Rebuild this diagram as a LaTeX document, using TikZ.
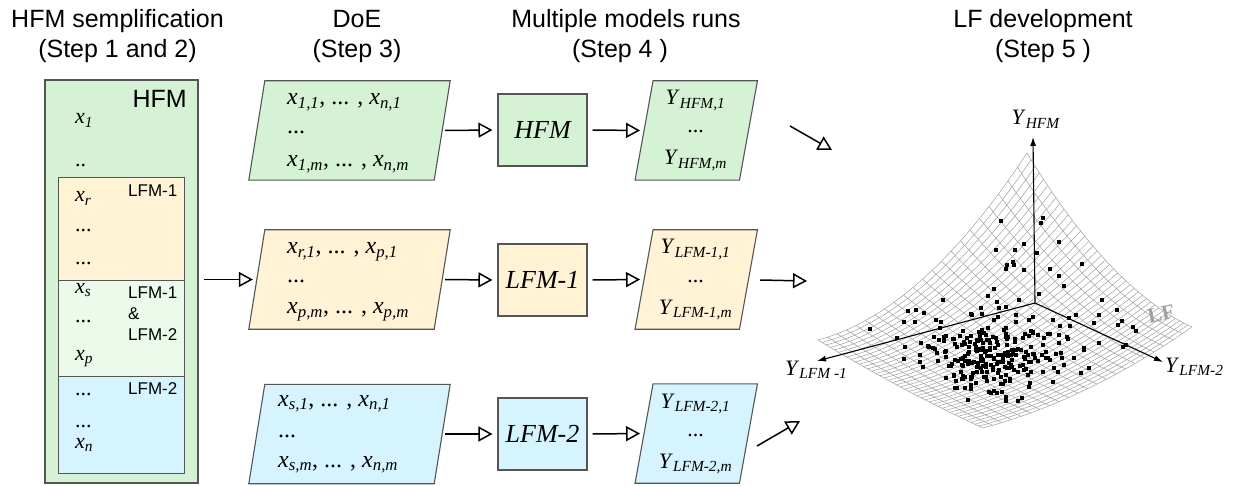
\documentclass[tikz,border=0pt]{standalone}
\usepackage{fontspec}
\setmainfont{Liberation Serif}
\newfontfamily\arialf{Liberation Sans}
\usetikzlibrary{arrows.meta,backgrounds,calc}
\definecolor{cgreen}{HTML}{D5F2D5}
\definecolor{corange}{HTML}{FFF2D5}
\definecolor{cblue}{HTML}{D5F4FF}
\definecolor{clight}{HTML}{EBFAEB}
\definecolor{cedge}{HTML}{555555}
\definecolor{cmesh}{HTML}{A0A0A0}
\newcommand\vx[1]{\textit{x}\textsubscript{\textit{#1}}}
\newcommand\vy[1]{\textit{Y}\textsubscript{\textit{#1}}}
\pgfmathdeclarefunction{srfx}{2}{\pgfmathparse{1027-209*#1+165*#2}}
\pgfmathdeclarefunction{srfy}{2}{\pgfmathparse{296+56*#1+76*#2-45*(1-#1)*(1-#1)-12*(1-#2)*(1-#2)-86*(1-#1)*(1-#1)*(1-#2)*(1-#2)}}
\begin{document}
\begin{tikzpicture}[x=1pt,y=-1pt,
  title/.style={font=\arialf\fontsize{25}{28}\selectfont, anchor=base, inner sep=0},
  box/.style={draw=cedge, line width=1.1pt, inner sep=0},
  host/.style={inner sep=0, minimum width=#1, minimum height=99},
  para/.style={draw=cedge, line width=1.1pt},
  lbl/.style={font=\arialf\fontsize{17}{20}\selectfont, anchor=base west, inner sep=0},
  vlab/.style={font=\fontsize{22}{26}\selectfont, anchor=base west, inner sep=0},
  dlab/.style={font=\fontsize{24}{28}\selectfont, anchor=base west, inner sep=0},
  olab/.style={font=\fontsize{22}{26}\selectfont, anchor=base, inner sep=0},
  mlab/.style={font=\itshape\fontsize{26}{30}\selectfont},
  arr/.style={line width=1.5pt, -{Triangle[open,length=14pt,width=15pt]}},
  axisarr/.style={line width=1.1pt, -{Latex[length=9pt,width=6pt]}},
  mesh/.style={draw=cmesh, line width=0.5pt}
]
\useasboundingbox (0,0) rectangle (1241,486);
\begin{scope}[on background layer]
\fill[white] (0,0) rectangle (1241,486);
\end{scope}

% titles
\node[title] (t1a) at (117.5,28) {HFM semplification};
\node[title] (t1b) at (117.5,58) {(Step 1 and 2)};
\node[title] (t2a) at (357,28) {DoE};
\node[title] (t2b) at (357,58) {(Step 3)};
\node[title] (t3a) at (626,28) {Multiple models runs};
\node[title] (t3b) at (620,58) {(Step 4 )};
\node[title] (t4a) at (1043,28) {LF development};
\node[title] (t4b) at (1043,58) {(Step 5 )};

% HFM box
\node[box, fill=cgreen, minimum width=153, minimum height=403] (hfm) at (121.5,281.5) {};
\node[box, line width=0.9pt, fill=corange, minimum width=126, minimum height=103] (g1) at (121,228.5) {};
\node[box, line width=0.9pt, fill=clight, minimum width=126, minimum height=96] (g12) at (121,328) {};
\node[box, line width=0.9pt, fill=cblue, minimum width=126, minimum height=97] (g2) at (121,424.5) {};
\node[font=\arialf\fontsize{25}{28}\selectfont, anchor=base east, inner sep=0] (hl) at (187,108) {HFM};
\node[lbl] (l1) at (128,197) {LFM-1};
\node[lbl] (l12a) at (128,298) {LFM-1};
\node[lbl] (l12b) at (128,319) {\&};
\node[lbl] (l12c) at (128,340) {LFM-2};
\node[lbl] (l2) at (128,394) {LFM-2};
\node[vlab] (v1) at (75,124) {\vx{1}};
\node[vlab] (v2) at (75,167) {..};
\node[vlab] (v3) at (75,202) {\vx{r}};
\node[vlab] (v4) at (75,232) {...};
\node[vlab] (v5) at (75,265) {...};
\node[vlab] (v6) at (75,293) {\vx{s}};
\node[vlab] (v7) at (75,322) {...};
\node[vlab] (v8) at (75,360) {\vx{p}};
\node[vlab] (v9) at (75,395) {...};
\node[vlab] (v10) at (75,427) {...};
\node[vlab] (v11) at (75,448) {\vx{n}};

% DoE parallelograms
\node[host=185] (d1) at (349.5,130.5) {};
\node[host=185] (d2) at (349.5,279.5) {};
\node[host=185] (d3) at (349.5,434) {};
\begin{scope}[on background layer]
\foreach \n/\c in {d1/cgreen,d2/corange,d3/cblue}{
  \draw[para, fill=\c] ([xshift=8pt]\n.north west) -- ([xshift=8pt]\n.north east)
     -- ([xshift=-8pt]\n.south east) -- ([xshift=-8pt]\n.south west) -- cycle;
}
\end{scope}
\node[dlab] (d1a) at (287,104.5) {\vx{1,1}, ... , \vx{n,1}};
\node[dlab] (d1b) at (287,133.5) {...};
\node[dlab] (d1c) at (287,166.5) {\vx{1,m}, ... , \vx{n,m}};
\node[dlab] (d2a) at (287,253.5) {\vx{r,1}, ... , \vx{p,1}};
\node[dlab] (d2b) at (287,282.5) {...};
\node[dlab] (d2c) at (287,313.5) {\vx{p,m}, ... , \vx{p,m}};
\node[dlab] (d3a) at (278,406) {\vx{s,1}, ... , \vx{n,1}};
\node[dlab] (d3b) at (278,437) {...};
\node[dlab] (d3c) at (278,467) {\vx{s,m}, ... , \vx{n,m}};

% model boxes
\node[box, fill=cgreen, minimum width=89, minimum height=72, mlab] (m1) at (542.5,130) {HFM};
\node[box, fill=corange, minimum width=89, minimum height=72, mlab] (m2) at (542.5,280) {LFM-1};
\node[box, fill=cblue, minimum width=89, minimum height=72, mlab] (m3) at (542.5,434) {LFM-2};

% output parallelograms
\node[host=104] (o1) at (696.25,130.5) {};
\node[host=104] (o2) at (696.25,279.5) {};
\node[host=104] (o3) at (696.25,433.5) {};
\begin{scope}[on background layer]
\foreach \n/\c in {o1/cgreen,o2/corange,o3/cblue}{
  \draw[para, fill=\c] ([xshift=9pt]\n.north west) -- ([xshift=9pt]\n.north east)
     -- ([xshift=-9pt]\n.south east) -- ([xshift=-9pt]\n.south west) -- cycle;
}
\end{scope}
\node[olab] (o1a) at (695.5,105) {\vy{HFM,1}};
\node[olab] (o1b) at (695.5,133) {...};
\node[olab] (o1c) at (695.5,165) {\vy{HFM,m}};
\node[olab] (o2a) at (695.5,254) {\vy{LFM-1,1}};
\node[olab] (o2b) at (695.5,282) {...};
\node[olab] (o2c) at (695.5,314) {\vy{LFM-1,m}};
\node[olab] (o3a) at (695.5,408) {\vy{LFM-2,1}};
\node[olab] (o3b) at (695.5,436) {...};
\node[olab] (o3c) at (695.5,468) {\vy{LFM-2,m}};

% arrows
\draw[arr] ($(hfm.east |- d2.west)+(5,0)$) -- ($(d2.west)+(-4,0)$);
\draw[arr] ($(d1.east)+(3,0)$) -- ($(m1.west)+(-5,0)$);
\draw[arr] ($(d2.east)+(3,0)$) -- ($(m2.west)+(-5,0)$);
\draw[arr] ($(d3.east)+(3,0)$) -- ($(m3.west)+(-5,0)$);
\draw[arr] ($(m1.east)+(5,0)$) -- ($(o1.west)+(-4,0)$);
\draw[arr] ($(m2.east)+(5,0)$) -- ($(o2.west)+(-4,0)$);
\draw[arr] ($(m3.east)+(5,0)$) -- ($(o3.west)+(-4,0)$);
\coordinate (a1s) at (790,126);
\coordinate (a1e) at (832,150);
\coordinate (a2s) at (760,280);
\coordinate (a2e) at (807,281);
\coordinate (a3s) at (757,446);
\coordinate (a3e) at (800,421);
\draw[arr] (a1s) -- (a1e);
\draw[arr] (a2s) -- (a2e);
\draw[arr] (a3s) -- (a3e);

% surface mesh
\foreach \i in {0,...,22}{
  \pgfmathsetmacro\ss{\i/22}
  \draw[mesh] plot[variable=\t, domain=0:1, samples=21, smooth] ({srfx(\ss,\t)},{srfy(\ss,\t)});
}
\foreach \j in {0,...,40}{
  \pgfmathsetmacro\tt{\j/40}
  \draw[mesh] plot[variable=\s, domain=0:1, samples=21, smooth] ({srfx(\s,\tt)},{srfy(\s,\tt)});
}
\node[font=\bfseries\fontsize{21}{24}\selectfont, text=cmesh, rotate=12, inner sep=0] (lf) at (1161,314) {LF};

% scatter points
\pgfmathsetseed{11}
\foreach \k in {1,...,210}{
  \pgfmathsetmacro\ps{min(max(0.58+0.11*(rand+rand+rand),0.03),0.97)}
  \pgfmathsetmacro\pt{min(max(0.55+0.13*(rand+rand+rand),0.03),0.97)}
  \pgfmathsetmacro\px{srfx(\ps,\pt)}
  \pgfmathsetmacro\py{srfy(\ps,\pt)}
  \fill ({\px-2},{\py-2}) rectangle ({\px+2},{\py+2});
}
\foreach \k in {1,...,90}{
  \pgfmathsetmacro\ps{0.45+0.4*rand}
  \pgfmathsetmacro\pt{0.47+0.42*rand}
  \pgfmathsetmacro\px{srfx(\ps,\pt)}
  \pgfmathsetmacro\py{srfy(\ps,\pt)}
  \fill ({\px-2},{\py-2}) rectangle ({\px+2},{\py+2});
}

% axes
\coordinate (O) at (1035,303);
\coordinate (AH) at (1033,137);
\coordinate (AL) at (817,361);
\coordinate (AR) at (1163,362);
\draw[axisarr] (O) -- (AH);
\draw[axisarr] (O) -- (AL);
\draw[axisarr] (O) -- (AR);
\node[olab] (yh) at (1036,125) {\vy{HFM}};
\node[vlab] (yl1) at (785,375) {\vy{LFM -1}};
\node[vlab] (yl2) at (1165,372) {\vy{LFM-2}};
\end{tikzpicture}
\end{document}
